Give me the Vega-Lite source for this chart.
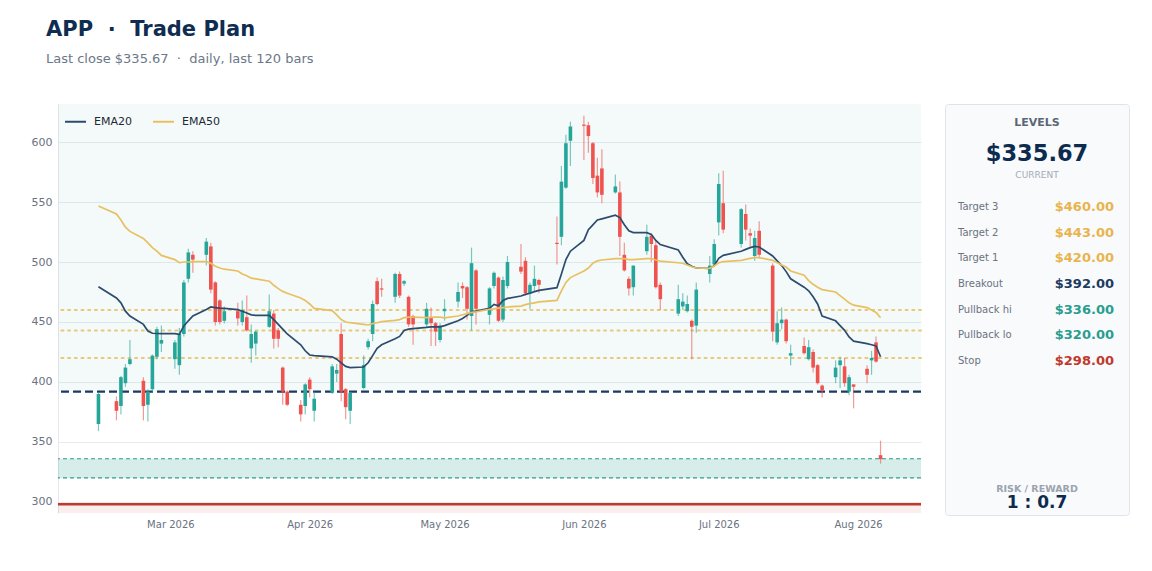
{
  "$schema": "https://vega.github.io/schema/vega-lite/v6.json",
  "background": "#ffffff",
  "padding": {"left": 31, "top": 18, "right": 10, "bottom": 10},
  "title": {
    "text": "APP \u00a0·\u00a0 Trade Plan",
    "subtitle": "Last close $335.67 \u00a0·\u00a0 daily, last 120 bars",
    "anchor": "start",
    "frame": "bounds",
    "dx": 15,
    "fontSize": 21,
    "fontWeight": "bold",
    "color": "#0f2d50",
    "subtitleFontSize": 13,
    "subtitleColor": "#6b7789",
    "subtitlePadding": 13,
    "offset": 38
  },
  "config": {
    "font": "DejaVu Sans",
    "view": {"stroke": null},
    "axis": {"labelFont": "DejaVu Sans"}
  },
  "datasets": {
    "bars": [
      {"d": "2026-02-13", "o": 365, "h": 391, "l": 359, "c": 390, "e20": 479.4, "e50": 546.7},
      {"d": "2026-02-17", "o": 384, "h": 388, "l": 368, "c": 376, "e20": 470, "e50": 540},
      {"d": "2026-02-18", "o": 380, "h": 405, "l": 373, "c": 404, "e20": 466, "e50": 535},
      {"d": "2026-02-19", "o": 399, "h": 415, "l": 396, "c": 412, "e20": 459, "e50": 529},
      {"d": "2026-02-20", "o": 415, "h": 435, "l": 414, "c": 419, "e20": 455, "e50": 525.5},
      {"d": "2026-02-23", "o": 401, "h": 404, "l": 368, "c": 380, "e20": 448, "e50": 519.7},
      {"d": "2026-02-24", "o": 381, "h": 394, "l": 367, "c": 392, "e20": 442.5, "e50": 516},
      {"d": "2026-02-25", "o": 394, "h": 423, "l": 391, "c": 422, "e20": 440.6, "e50": 512},
      {"d": "2026-02-26", "o": 421, "h": 446, "l": 419, "c": 444, "e20": 440.4, "e50": 509},
      {"d": "2026-02-27", "o": 432, "h": 447, "l": 425, "c": 435, "e20": 440.3, "e50": 505.5},
      {"d": "2026-03-02", "o": 419, "h": 435, "l": 411, "c": 433, "e20": 440.3, "e50": 502},
      {"d": "2026-03-03", "o": 414, "h": 445, "l": 406, "c": 440, "e20": 439.7, "e50": 499.4},
      {"d": "2026-03-04", "o": 440, "h": 485, "l": 438, "c": 483, "e20": 446.7, "e50": 500},
      {"d": "2026-03-05", "o": 486, "h": 511, "l": 483, "c": 508, "e20": 451, "e50": 500},
      {"d": "2026-03-06", "o": 506, "h": 509, "l": 491, "c": 502, "e20": 455, "e50": 500.3},
      {"d": "2026-03-09", "o": 506, "h": 520, "l": 497, "c": 517, "e20": 460.5, "e50": 500.3},
      {"d": "2026-03-10", "o": 513, "h": 516, "l": 474, "c": 477, "e20": 462.5, "e50": 498.9},
      {"d": "2026-03-11", "o": 483, "h": 484, "l": 447, "c": 450, "e20": 462, "e50": 496.5},
      {"d": "2026-03-12", "o": 468, "h": 469, "l": 448, "c": 450, "e20": 461.5, "e50": 495},
      {"d": "2026-03-13", "o": 451, "h": 463, "l": 449, "c": 459, "e20": 461.4, "e50": 494},
      {"d": "2026-03-16", "o": 459, "h": 466, "l": 447, "c": 453, "e20": 460.3, "e50": 492.5},
      {"d": "2026-03-17", "o": 450, "h": 468, "l": 447, "c": 460, "e20": 459, "e50": 490},
      {"d": "2026-03-18", "o": 454, "h": 472, "l": 442, "c": 443, "e20": 457.5, "e50": 488.5},
      {"d": "2026-03-19", "o": 428, "h": 448, "l": 416, "c": 440, "e20": 456, "e50": 486.5},
      {"d": "2026-03-20", "o": 432, "h": 443, "l": 422, "c": 442, "e20": 455.6, "e50": 486},
      {"d": "2026-03-23", "o": 446, "h": 473, "l": 445, "c": 459, "e20": 455.5, "e50": 484},
      {"d": "2026-03-24", "o": 457, "h": 460, "l": 428, "c": 436, "e20": 452, "e50": 480.6},
      {"d": "2026-03-25", "o": 443, "h": 445, "l": 429, "c": 436, "e20": 448, "e50": 477.8},
      {"d": "2026-03-26", "o": 412, "h": 413, "l": 381, "c": 392, "e20": 444, "e50": 475.5},
      {"d": "2026-03-27", "o": 392, "h": 393, "l": 380, "c": 381, "e20": 440, "e50": 474},
      {"d": "2026-03-30", "o": 381, "h": 385, "l": 367, "c": 373, "e20": 431, "e50": 470},
      {"d": "2026-03-31", "o": 380, "h": 399, "l": 373, "c": 398, "e20": 426, "e50": 468},
      {"d": "2026-04-01", "o": 402, "h": 404, "l": 387, "c": 394, "e20": 422.5, "e50": 465},
      {"d": "2026-04-02", "o": 376, "h": 392, "l": 367, "c": 386, "e20": 422, "e50": 461.4},
      {"d": "2026-04-06", "o": 391, "h": 415, "l": 390, "c": 413, "e20": 421, "e50": 459.5},
      {"d": "2026-04-07", "o": 407, "h": 415, "l": 400, "c": 410, "e20": 419, "e50": 456},
      {"d": "2026-04-08", "o": 440, "h": 449, "l": 384, "c": 392, "e20": 416, "e50": 452},
      {"d": "2026-04-09", "o": 394, "h": 395, "l": 369, "c": 379, "e20": 413, "e50": 450},
      {"d": "2026-04-10", "o": 376, "h": 392, "l": 365, "c": 391, "e20": 412, "e50": 449.4},
      {"d": "2026-04-13", "o": 395, "h": 422, "l": 394, "c": 414, "e20": 412.5, "e50": 448},
      {"d": "2026-04-14", "o": 429, "h": 436, "l": 427, "c": 434, "e20": 416, "e50": 447.5},
      {"d": "2026-04-15", "o": 440, "h": 468, "l": 434, "c": 465, "e20": 422, "e50": 448.6},
      {"d": "2026-04-16", "o": 484, "h": 487, "l": 464, "c": 465, "e20": 428, "e50": 449.4},
      {"d": "2026-04-17", "o": 478, "h": 486, "l": 471, "c": 477, "e20": 431, "e50": 450.3},
      {"d": "2026-04-20", "o": 471, "h": 491, "l": 466, "c": 490, "e20": 436, "e50": 451.4},
      {"d": "2026-04-21", "o": 490, "h": 492, "l": 470, "c": 472, "e20": 438, "e50": 452},
      {"d": "2026-04-22", "o": 482, "h": 485, "l": 480, "c": 484, "e20": 443, "e50": 453.6},
      {"d": "2026-04-23", "o": 471, "h": 472, "l": 446, "c": 448, "e20": 444, "e50": 454},
      {"d": "2026-04-24", "o": 455, "h": 456, "l": 431, "c": 448, "e20": 444.5, "e50": 454},
      {"d": "2026-04-27", "o": 448, "h": 466, "l": 445, "c": 461, "e20": 445.5, "e50": 453.6},
      {"d": "2026-04-28", "o": 454, "h": 462, "l": 430, "c": 449, "e20": 446, "e50": 453.8},
      {"d": "2026-04-29", "o": 449, "h": 450, "l": 430, "c": 442, "e20": 446, "e50": 454},
      {"d": "2026-04-30", "o": 435, "h": 449, "l": 433, "c": 447, "e20": 446, "e50": 454},
      {"d": "2026-05-01", "o": 459, "h": 469, "l": 451, "c": 461, "e20": 447, "e50": 453.5},
      {"d": "2026-05-04", "o": 467, "h": 483, "l": 462, "c": 475, "e20": 451, "e50": 455},
      {"d": "2026-05-05", "o": 480, "h": 483, "l": 470, "c": 478, "e20": 453, "e50": 456},
      {"d": "2026-05-06", "o": 479, "h": 480, "l": 452, "c": 461, "e20": 455.5, "e50": 457},
      {"d": "2026-05-07", "o": 455, "h": 512, "l": 443, "c": 499, "e20": 458.6, "e50": 458},
      {"d": "2026-05-08", "o": 493, "h": 494, "l": 448, "c": 461, "e20": 459, "e50": 458.5},
      {"d": "2026-05-11", "o": 456, "h": 479, "l": 448, "c": 478, "e20": 461.4, "e50": 460.6},
      {"d": "2026-05-12", "o": 480, "h": 492, "l": 478, "c": 491, "e20": 464.7, "e50": 461},
      {"d": "2026-05-13", "o": 487, "h": 488, "l": 450, "c": 451, "e20": 463.5, "e50": 461.5},
      {"d": "2026-05-14", "o": 452, "h": 488, "l": 450, "c": 485, "e20": 468, "e50": 462},
      {"d": "2026-05-15", "o": 480, "h": 505, "l": 478, "c": 500, "e20": 469.7, "e50": 462.5},
      {"d": "2026-05-18", "o": 496, "h": 515, "l": 490, "c": 492, "e20": 471.7, "e50": 463.3},
      {"d": "2026-05-19", "o": 501, "h": 504, "l": 472, "c": 474, "e20": 473, "e50": 464.5},
      {"d": "2026-05-20", "o": 474, "h": 483, "l": 461, "c": 481, "e20": 474, "e50": 465.3},
      {"d": "2026-05-21", "o": 480, "h": 497, "l": 476, "c": 486, "e20": 475.3, "e50": 466},
      {"d": "2026-05-22", "o": 485, "h": 486, "l": 474, "c": 481, "e20": 476.4, "e50": 466.7},
      {"d": "2026-05-26", "o": 516, "h": 538, "l": 498, "c": 515, "e20": 478.6, "e50": 468},
      {"d": "2026-05-27", "o": 521, "h": 580, "l": 514, "c": 567, "e20": 490, "e50": 476},
      {"d": "2026-05-28", "o": 562, "h": 606, "l": 561, "c": 599, "e20": 502, "e50": 483},
      {"d": "2026-05-29", "o": 601, "h": 617, "l": 580, "c": 613, "e20": 509, "e50": 487},
      {"d": "2026-06-01", "o": 614.5, "h": 622, "l": 585, "c": 613.5, "e20": 518, "e50": 492.5},
      {"d": "2026-06-02", "o": 614, "h": 617, "l": 591, "c": 605, "e20": 527, "e50": 495},
      {"d": "2026-06-03", "o": 599, "h": 600, "l": 565, "c": 570, "e20": 531, "e50": 499},
      {"d": "2026-06-04", "o": 572, "h": 587, "l": 554, "c": 558, "e20": 535, "e50": 501},
      {"d": "2026-06-05", "o": 578, "h": 594, "l": 549, "c": 556, "e20": 536, "e50": 501.7},
      {"d": "2026-06-08", "o": 558, "h": 573, "l": 557, "c": 563, "e20": 539, "e50": 502.8},
      {"d": "2026-06-09", "o": 558, "h": 567, "l": 505, "c": 521, "e20": 537, "e50": 502.8},
      {"d": "2026-06-10", "o": 506, "h": 516, "l": 492, "c": 493, "e20": 531, "e50": 502.8},
      {"d": "2026-06-11", "o": 486, "h": 488, "l": 472, "c": 478, "e20": 526, "e50": 502},
      {"d": "2026-06-12", "o": 479, "h": 497, "l": 472, "c": 497, "e20": 524.5, "e50": 502},
      {"d": "2026-06-15", "o": 509, "h": 531, "l": 506, "c": 521, "e20": 524.5, "e50": 502.8},
      {"d": "2026-06-16", "o": 522, "h": 524, "l": 500, "c": 515, "e20": 523, "e50": 502.8},
      {"d": "2026-06-17", "o": 514, "h": 518, "l": 478, "c": 479, "e20": 518, "e50": 501.7},
      {"d": "2026-06-18", "o": 481, "h": 483, "l": 460, "c": 469, "e20": 514.5, "e50": 500.8},
      {"d": "2026-06-22", "o": 457, "h": 481, "l": 455, "c": 469, "e20": 510, "e50": 499.4},
      {"d": "2026-06-23", "o": 463, "h": 474, "l": 460, "c": 467, "e20": 504, "e50": 499},
      {"d": "2026-06-24", "o": 459, "h": 472, "l": 458, "c": 465, "e20": 498.5, "e50": 497.5},
      {"d": "2026-06-25", "o": 451, "h": 452, "l": 419, "c": 446, "e20": 496.5, "e50": 496},
      {"d": "2026-06-26", "o": 447, "h": 483, "l": 441, "c": 477, "e20": 495, "e50": 495},
      {"d": "2026-06-29", "o": 490, "h": 505, "l": 483, "c": 497, "e20": 494.7, "e50": 494.7},
      {"d": "2026-06-30", "o": 498, "h": 519, "l": 496, "c": 515, "e20": 497, "e50": 496.7},
      {"d": "2026-07-01", "o": 533, "h": 574, "l": 522, "c": 565, "e20": 503, "e50": 499.4},
      {"d": "2026-07-02", "o": 549, "h": 576, "l": 524, "c": 527, "e20": 505.5, "e50": 500.3},
      {"d": "2026-07-06", "o": 515, "h": 545, "l": 512, "c": 544, "e20": 509, "e50": 501.4},
      {"d": "2026-07-07", "o": 540, "h": 548, "l": 518, "c": 527, "e20": 510.5, "e50": 502.2},
      {"d": "2026-07-08", "o": 524, "h": 528, "l": 513, "c": 522, "e20": 512, "e50": 503},
      {"d": "2026-07-09", "o": 505, "h": 526, "l": 501, "c": 520, "e20": 513, "e50": 503.6},
      {"d": "2026-07-10", "o": 526, "h": 534, "l": 503, "c": 506, "e20": 512.5, "e50": 503.6},
      {"d": "2026-07-13", "o": 497, "h": 499, "l": 434, "c": 442, "e20": 505, "e50": 501.4},
      {"d": "2026-07-14", "o": 433, "h": 459, "l": 431, "c": 449, "e20": 501, "e50": 499.4},
      {"d": "2026-07-15", "o": 449, "h": 462, "l": 444, "c": 452, "e20": 497, "e50": 497.5},
      {"d": "2026-07-16", "o": 452, "h": 453, "l": 432, "c": 434, "e20": 492, "e50": 495.8},
      {"d": "2026-07-17", "o": 422, "h": 431, "l": 414, "c": 424, "e20": 486, "e50": 492.5},
      {"d": "2026-07-20", "o": 430, "h": 437, "l": 423, "c": 424, "e20": 479, "e50": 489},
      {"d": "2026-07-21", "o": 419, "h": 435, "l": 418, "c": 429, "e20": 476, "e50": 484.5},
      {"d": "2026-07-22", "o": 425, "h": 427, "l": 408, "c": 412, "e20": 471, "e50": 481.4},
      {"d": "2026-07-23", "o": 414, "h": 415, "l": 398, "c": 399, "e20": 465, "e50": 479},
      {"d": "2026-07-24", "o": 397, "h": 398, "l": 387, "c": 393, "e20": 455, "e50": 477},
      {"d": "2026-07-27", "o": 404, "h": 418, "l": 399, "c": 412, "e20": 451, "e50": 475},
      {"d": "2026-07-28", "o": 414, "h": 421, "l": 395, "c": 418, "e20": 447, "e50": 472},
      {"d": "2026-07-29", "o": 413, "h": 420, "l": 396, "c": 399, "e20": 443, "e50": 469},
      {"d": "2026-07-30", "o": 392, "h": 406, "l": 389, "c": 404, "e20": 437.5, "e50": 466},
      {"d": "2026-07-31", "o": 398, "h": 398, "l": 378, "c": 396, "e20": 434, "e50": 464},
      {"d": "2026-08-03", "o": 411, "h": 414, "l": 399, "c": 406, "e20": 432, "e50": 462},
      {"d": "2026-08-04", "o": 418, "h": 426, "l": 406, "c": 420, "e20": 431, "e50": 460},
      {"d": "2026-08-05", "o": 433, "h": 438, "l": 416, "c": 417, "e20": 430, "e50": 458},
      {"d": "2026-08-06", "o": 339, "h": 351, "l": 332, "c": 335.67, "e20": 421, "e50": 453.6}
    ],
    "levels": [
      {"label": "Target 3", "price": 460, "kind": "target"},
      {"label": "Target 2", "price": 443, "kind": "target"},
      {"label": "Target 1", "price": 420, "kind": "target"},
      {"label": "Breakout", "price": 392, "kind": "breakout"},
      {"label": "Pullback hi", "price": 336, "kind": "pullback"},
      {"label": "Pullback lo", "price": 320, "kind": "pullback"},
      {"label": "Stop", "price": 298, "kind": "stop"}
    ]
  },
  "hconcat": [
    {
      "width": 863,
      "height": 409,
      "view": {"fill": "#ffffff", "stroke": null},
      "layer": [
        {
          "data": {"values": [{}]},
          "mark": {"type": "rect", "color": "#2a9d8f", "opacity": 0.055},
          "encoding": {
            "y": {
              "datum": 392,
              "type": "quantitative",
              "scale": {"domain": [290.8, 631.7], "nice": false, "zero": false},
              "axis": {
                "title": null,
                "values": [300, 350, 400, 450, 500, 550, 600],
                "grid": true,
                "gridColor": "#e8ecf0",
                "gridWidth": 1,
                "ticks": false,
                "domain": true,
                "domainColor": "#e5e8ec",
                "labelFontSize": 11,
                "labelColor": "#6b7280",
                "labelPadding": 6
              }
            },
            "y2": {"datum": 631.7}
          }
        },
        {
          "data": {"values": [{}]},
          "mark": {"type": "rect", "color": "#2a9d8f", "opacity": 0.19},
          "encoding": {"y": {"datum": 320, "type": "quantitative", "title": null}, "y2": {"datum": 336}}
        },
        {
          "data": {"values": [{}]},
          "mark": {"type": "rect", "color": "#c0392b", "opacity": 0.08, "clip": true},
          "encoding": {"y": {"datum": 298, "type": "quantitative", "title": null}, "y2": {"datum": 290.8}}
        },
        {
          "data": {"name": "levels"},
          "transform": [{"filter": "datum.kind === 'target'"}],
          "mark": {"type": "rule", "color": "#e8c061", "strokeWidth": 2, "strokeDash": [2, 4.7], "strokeCap": "round", "opacity": 0.85},
          "encoding": {"y": {"field": "price", "type": "quantitative", "title": null}}
        },
        {
          "data": {"name": "levels"},
          "transform": [{"filter": "datum.kind === 'pullback'"}],
          "mark": {"type": "rule", "color": "#2a9d8f", "strokeWidth": 1.2, "strokeDash": [4, 3]},
          "encoding": {"y": {"field": "price", "type": "quantitative", "title": null}}
        },
        {
          "data": {"name": "levels"},
          "transform": [{"filter": "datum.kind === 'stop'"}],
          "mark": {"type": "rule", "color": "#c0392b", "strokeWidth": 2.5},
          "encoding": {"y": {"field": "price", "type": "quantitative", "title": null}}
        },
        {
          "data": {"name": "levels"},
          "transform": [{"filter": "datum.kind === 'breakout'"}],
          "mark": {"type": "rule", "color": "#1d3a5f", "strokeWidth": 2.3, "strokeDash": [8, 4]},
          "encoding": {"y": {"field": "price", "type": "quantitative", "title": null}}
        },
        {
          "data": {"name": "bars"},
          "mark": {"type": "rule", "strokeWidth": 1.2, "opacity": 0.6},
          "encoding": {
            "x": {
              "field": "d",
              "type": "temporal",
              "title": null,
              "scale": {
                "type": "utc",
                "padding": 0,
                "nice": false,
                "domain": [
                  {"year": 2026, "month": 2, "date": 4, "utc": true},
                  {"year": 2026, "month": 8, "date": 15, "utc": true}
                ]
              },
              "axis": {
                "values": [
                  {"year": 2026, "month": 3, "date": 1, "utc": true},
                  {"year": 2026, "month": 4, "date": 1, "utc": true},
                  {"year": 2026, "month": 5, "date": 1, "utc": true},
                  {"year": 2026, "month": 6, "date": 1, "utc": true},
                  {"year": 2026, "month": 7, "date": 1, "utc": true},
                  {"year": 2026, "month": 8, "date": 1, "utc": true}
                ],
                "labelExpr": "utcFormat(datum.value, '%b %Y')",
                "grid": false,
                "ticks": false,
                "domain": false,
                "labelFontSize": 10,
                "labelColor": "#6b7280",
                "labelPadding": 6
              }
            },
            "y": {"field": "l", "type": "quantitative", "title": null},
            "y2": {"field": "h"},
            "color": {"condition": {"test": "datum.c >= datum.o", "value": "#26a69a"}, "value": "#ef5350"}
          }
        },
        {
          "data": {"name": "bars"},
          "mark": {"type": "bar", "size": 3.6},
          "encoding": {
            "x": {"field": "d", "type": "temporal"},
            "y": {"field": "o", "type": "quantitative", "title": null},
            "y2": {"field": "c"},
            "color": {"condition": {"test": "datum.c >= datum.o", "value": "#26a69a"}, "value": "#ef5350"}
          }
        },
        {
          "data": {"name": "bars"},
          "mark": {"type": "line", "strokeWidth": 1.7},
          "encoding": {
            "x": {"field": "d", "type": "temporal"},
            "y": {"field": "e20", "type": "quantitative", "title": null},
            "color": {
              "datum": "EMA20",
              "type": "nominal",
              "scale": {"domain": ["EMA20", "EMA50"], "range": ["#2d4b6e", "#e8c061"]},
              "legend": {
                "title": null,
                "orient": "top-left",
                "direction": "horizontal",
                "offset": 6,
                "padding": 0,
                "symbolType": "stroke",
                "symbolStrokeWidth": 2,
                "symbolSize": 440,
                "labelFontSize": 11,
                "labelColor": "#1f2937",
                "labelOffset": 7,
                "columnPadding": 17
              }
            }
          }
        },
        {
          "data": {"name": "bars"},
          "mark": {"type": "line", "strokeWidth": 1.7},
          "encoding": {
            "x": {"field": "d", "type": "temporal"},
            "y": {"field": "e50", "type": "quantitative", "title": null},
            "color": {"datum": "EMA50", "type": "nominal"}
          }
        }
      ]
    },
    {
      "width": 184,
      "height": 411,
      "view": {"fill": "#f8fafc", "stroke": "#dfe4ea", "cornerRadius": 3},
      "layer": [
        {
          "data": {"values": [{}]},
          "mark": {"type": "text", "text": "LEVELS", "fontSize": 11, "fontWeight": "bold", "color": "#5b6676"},
          "encoding": {
            "x": {"datum": 92, "type": "quantitative", "scale": {"domain": [0, 184], "nice": false, "zero": false}, "axis": null},
            "y": {"datum": 19, "type": "quantitative", "scale": {"domain": [411, 0], "nice": false}, "axis": null}
          }
        },
        {
          "data": {"values": [{}]},
          "mark": {"type": "text", "text": "$335.67", "fontSize": 22.5, "fontWeight": "bold", "color": "#0d2b4e"},
          "encoding": {
            "x": {"datum": 92, "type": "quantitative"},
            "y": {"datum": 50, "type": "quantitative", "scale": {"domain": [411, 0], "nice": false}, "axis": null}
          }
        },
        {
          "data": {"values": [{}]},
          "mark": {"type": "text", "text": "CURRENT", "fontSize": 9, "color": "#a3acb9"},
          "encoding": {
            "x": {"datum": 92, "type": "quantitative"},
            "y": {"datum": 71, "type": "quantitative", "scale": {"domain": [411, 0], "nice": false}, "axis": null}
          }
        },
        {
          "data": {"values": [{}]},
          "mark": {"type": "text", "text": "RISK / REWARD", "fontSize": 9.5, "fontWeight": "bold", "color": "#9aa3af"},
          "encoding": {
            "x": {"datum": 92, "type": "quantitative"},
            "y": {"datum": 385, "type": "quantitative", "scale": {"domain": [411, 0], "nice": false}, "axis": null}
          }
        },
        {
          "data": {"values": [{}]},
          "mark": {"type": "text", "text": "1 : 0.7", "fontSize": 17, "fontWeight": "bold", "color": "#0d2b4e"},
          "encoding": {
            "x": {"datum": 92, "type": "quantitative"},
            "y": {"datum": 399, "type": "quantitative", "scale": {"domain": [411, 0], "nice": false}, "axis": null}
          }
        },
        {
          "data": {"name": "levels"},
          "mark": {"type": "text", "align": "left", "fontSize": 10, "color": "#6b7280"},
          "encoding": {
            "x": {"datum": 13, "type": "quantitative"},
            "y": {
              "field": "label",
              "type": "nominal",
              "scale": {"type": "point", "padding": 0, "domain": ["Target 3", "Target 2", "Target 1", "Breakout", "Pullback hi", "Pullback lo", "Stop"], "range": [103, 257]},
              "axis": null
            },
            "text": {"field": "label", "type": "nominal"}
          }
        },
        {
          "data": {"name": "levels"},
          "mark": {"type": "text", "align": "right", "fontSize": 13, "fontWeight": "bold"},
          "encoding": {
            "x": {"datum": 169, "type": "quantitative"},
            "y": {
              "field": "label",
              "type": "nominal",
              "scale": {"type": "point", "padding": 0, "domain": ["Target 3", "Target 2", "Target 1", "Breakout", "Pullback hi", "Pullback lo", "Stop"], "range": [103, 257]},
              "axis": null
            },
            "text": {"field": "price", "type": "quantitative", "format": "$.2f"},
            "color": {
              "field": "kind",
              "type": "nominal",
              "scale": {"domain": ["target", "breakout", "pullback", "stop"], "range": ["#e9b44c", "#1d3a5f", "#2a9d8f", "#c0392b"]},
              "legend": null
            }
          }
        }
      ],
      "resolve": {"scale": {"y": "independent"}}
    }
  ],
  "spacing": 21,
  "resolve": {"scale": {"color": "independent"}, "legend": {"color": "independent"}}
}
